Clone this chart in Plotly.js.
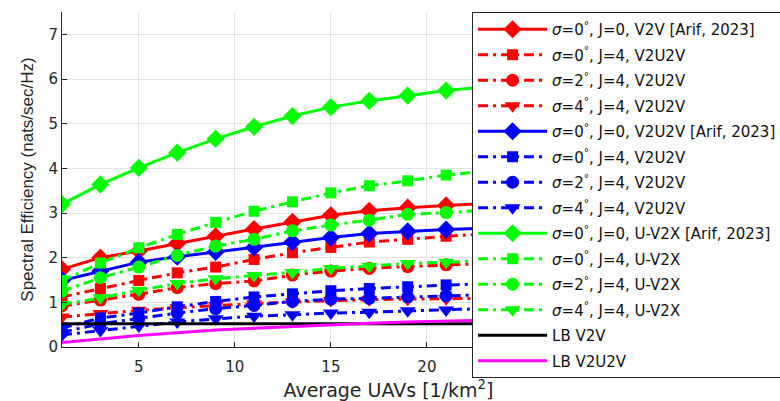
<!DOCTYPE html>
<html>
<head>
<meta charset="utf-8">
<script src="https://cdn.plot.ly/plotly-3.0.1.min.js"></script>
<style>html,body{margin:0;padding:0;background:#fff;}#chart{width:780px;height:401px;}</style>
</head>
<body>
<div id="chart"></div>
<script>
// Average UAVs [1/km^2]
const xs = [1, 3, 5, 7, 9, 11, 13, 15, 17, 19, 21, 23];
const xTicks = [5, 10, 15, 20];
const yTicks = [0, 1, 2, 3, 4, 5, 6, 7];

// V2V (red)
const redJ0Sig0 = [1.74, 2.00, 2.15, 2.32, 2.48, 2.64, 2.80, 2.95, 3.05, 3.12, 3.17, 3.21];
const redJ4Sig0 = [1.12, 1.31, 1.49, 1.66, 1.79, 1.96, 2.11, 2.23, 2.35, 2.41, 2.48, 2.53];
const redJ4Sig2 = [0.92, 1.05, 1.18, 1.33, 1.42, 1.48, 1.61, 1.70, 1.76, 1.80, 1.84, 1.87];
const redJ4Sig4 = [0.67, 0.75, 0.82, 0.88, 0.93, 0.97, 1.01, 1.04, 1.06, 1.07, 1.08, 1.09];
// V2U2V (blue)
const blueJ0Sig0 = [1.49, 1.70, 1.90, 2.02, 2.13, 2.23, 2.35, 2.45, 2.54, 2.59, 2.63, 2.66];
const blueJ4Sig0 = [0.42, 0.65, 0.76, 0.90, 1.02, 1.12, 1.19, 1.26, 1.31, 1.35, 1.39, 1.42];
const blueJ4Sig2 = [0.33, 0.52, 0.64, 0.76, 0.86, 0.93, 1.02, 1.07, 1.09, 1.12, 1.15, 1.17];
const blueJ4Sig4 = [0.27, 0.37, 0.47, 0.56, 0.63, 0.69, 0.72, 0.76, 0.78, 0.81, 0.83, 0.86];
// U-V2X (green)
const greenJ0Sig0 = [3.20, 3.64, 4.01, 4.35, 4.66, 4.93, 5.17, 5.37, 5.51, 5.63, 5.74, 5.82];
const greenJ4Sig0 = [1.49, 1.88, 2.22, 2.52, 2.79, 3.04, 3.25, 3.45, 3.61, 3.72, 3.85, 3.93];
const greenJ4Sig2 = [1.25, 1.55, 1.79, 2.05, 2.26, 2.41, 2.60, 2.73, 2.84, 2.97, 3.01, 3.06];
const greenJ4Sig4 = [0.95, 1.10, 1.27, 1.42, 1.53, 1.60, 1.67, 1.76, 1.81, 1.87, 1.90, 1.93];
// Lower bounds
const lbV2V   = [0.52, 0.52, 0.52, 0.52, 0.52, 0.52, 0.52, 0.52, 0.52, 0.52, 0.52, 0.52];
const lbV2U2V = [0.10, 0.18, 0.26, 0.32, 0.38, 0.42, 0.46, 0.50, 0.53, 0.56, 0.58, 0.60];

const names = [
  '<i>σ</i>=0<sup>°</sup>, J=0, V2V [Arif, 2023]',
  '<i>σ</i>=0<sup>°</sup>, J=4, V2U2V',
  '<i>σ</i>=2<sup>°</sup>, J=4, V2U2V',
  '<i>σ</i>=4<sup>°</sup>, J=4, V2U2V',
  '<i>σ</i>=0<sup>°</sup>, J=0, V2U2V [Arif, 2023]',
  '<i>σ</i>=0<sup>°</sup>, J=4, V2U2V',
  '<i>σ</i>=2<sup>°</sup>, J=4, V2U2V',
  '<i>σ</i>=4<sup>°</sup>, J=4, V2U2V',
  '<i>σ</i>=0<sup>°</sup>, J=0, U-V2X [Arif, 2023]',
  '<i>σ</i>=0<sup>°</sup>, J=4, U-V2X',
  '<i>σ</i>=2<sup>°</sup>, J=4, U-V2X',
  '<i>σ</i>=4<sup>°</sup>, J=4, U-V2X',
  'LB V2V',
  'LB V2U2V'
];

const seriesY = [redJ0Sig0, redJ4Sig0, redJ4Sig2, redJ4Sig4,
                 blueJ0Sig0, blueJ4Sig0, blueJ4Sig2, blueJ4Sig4,
                 greenJ0Sig0, greenJ4Sig0, greenJ4Sig2, greenJ4Sig4,
                 lbV2V, lbV2U2V];
const colors = ['#ff0000','#ff0000','#ff0000','#ff0000',
                '#0000ff','#0000ff','#0000ff','#0000ff',
                '#00ff00','#00ff00','#00ff00','#00ff00',
                '#000000','#ff00ff'];
const symbols = ['diamond','square','circle','triangle-down',
                 'diamond','square','circle','triangle-down',
                 'diamond','square','circle','triangle-down', null, null];
const sizes = {'diamond': 14, 'square': 11, 'circle': 13, 'triangle-down': 14};
const dashDot = '10px,5px,3px,5px';

const traces = seriesY.map((y, i) => {
  const sym = symbols[i];
  const t = {
    x: xs, y: y, name: names[i], type: 'scatter',
    mode: sym ? 'lines+markers' : 'lines',
    legendgroup: 'g' + i,
    line: {color: colors[i], width: 3, dash: (sym && sym !== 'diamond') ? dashDot : 'solid'}
  };
  if (sym) t.marker = {symbol: sym, size: sizes[sym], color: colors[i], line: {width: 0}};
  return t;
});

const FONT = 'DejaVu Sans, Liberation Sans, sans-serif';
const axisFont = {family: FONT, size: 15, color: '#262626'};

const layout = {
  width: 780, height: 401,
  margin: {l: 62, r: 65, t: 12, b: 54, pad: 0, autoexpand: false},
  paper_bgcolor: '#ffffff', plot_bgcolor: '#ffffff',
  font: {family: FONT, color: '#262626'},
  showlegend: true,
  xaxis: {
    range: [1, 35], tickvals: xTicks,
    showgrid: true, gridcolor: '#e3e3e3', gridwidth: 1,
    zeroline: false, showline: true, linecolor: '#262626', linewidth: 1,
    ticks: 'inside', ticklen: 5, tickcolor: '#262626',
    tickfont: axisFont, ticklabelstandoff: 6,
    title: {text: 'Average UAVs [1/km<sup>2</sup>]', font: {family: FONT, size: 19, color: '#262626'}, standoff: 9}
  },
  yaxis: {
    range: [0, 7.5], tickvals: yTicks,
    showgrid: true, gridcolor: '#e3e3e3', gridwidth: 1,
    zeroline: false, showline: true, linecolor: '#262626', linewidth: 1,
    ticks: 'inside', ticklen: 5, tickcolor: '#262626',
    tickfont: axisFont, ticklabelstandoff: 0,
    title: {text: 'Spectral Efficiency (nats/sec/Hz)', font: {family: 'Liberation Sans, Arial, sans-serif', size: 17, color: '#262626'}, standoff: 10}
  },
  legend: {
    x: 0.628, xanchor: 'left', y: 1, yanchor: 'top',
    bgcolor: '#ffffff', bordercolor: '#262626', borderwidth: 1,
    font: {family: FONT, size: 15, color: '#111111'},
    traceorder: 'grouped', tracegroupgap: 3,
    itemwidth: 69, itemsizing: 'trace', maxheight: 400
  }
};

Plotly.newPlot('chart', traces, layout, {displayModeBar: false, staticPlot: true});
</script>
</body>
</html>
